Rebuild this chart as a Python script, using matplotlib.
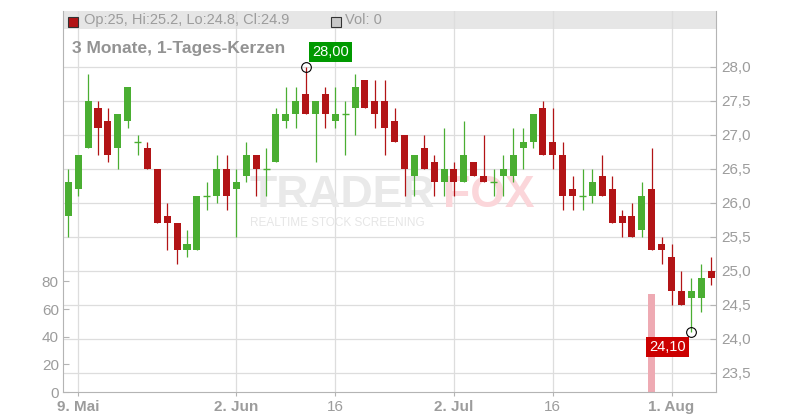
import matplotlib
matplotlib.use("Agg")
import matplotlib.pyplot as plt
import numpy as np
import pandas as pd
from matplotlib.patches import Rectangle

plt.rcParams["font.family"] = ["Liberation Sans", "DejaVu Sans"]

# daily candles, 8 May - 7 Aug
days = pd.bdate_range("2025-05-08", "2025-08-07")
opens = [25.8, 26.2, 26.8, 27.4, 27.2, 26.8, 27.2, 26.9, 26.8, 26.5,
         25.8, 25.7, 25.3, 25.3, 26.1, 26.1, 26.5, 26.2, 26.4, 26.7,
         26.5, 26.6, 27.2, 27.3, 27.6, 27.3, 27.6, 27.2, 27.3, 27.4,
         27.8, 27.5, 27.5, 27.2, 27.0, 26.4, 26.8, 26.6, 26.3, 26.5,
         26.3, 26.6, 26.4, 26.3, 26.4, 26.4, 26.8, 26.9, 27.4, 26.9,
         26.7, 26.2, 26.1, 26.1, 26.4, 26.2, 25.8, 25.8, 25.6, 26.2,
         25.4, 25.2, 24.7, 24.6, 24.6, 25.0]
highs = [26.5, 26.7, 27.9, 27.5, 27.4, 27.3, 27.7, 27.0, 26.9, 26.5,
         26.0, 25.7, 25.6, 26.1, 26.3, 26.7, 26.7, 26.5, 26.9, 26.7,
         26.8, 27.4, 27.7, 27.7, 28.0, 27.5, 27.7, 27.7, 27.5, 27.9,
         27.8, 27.8, 27.8, 27.4, 27.0, 26.7, 27.0, 26.7, 27.1, 26.6,
         27.2, 26.6, 27.0, 26.5, 26.7, 27.1, 27.1, 27.3, 27.5, 27.4,
         26.9, 26.4, 26.5, 26.5, 26.7, 26.4, 25.9, 26.0, 26.3, 26.8,
         25.5, 25.4, 25.0, 24.9, 25.1, 25.2]
lows = [25.5, 26.1, 26.8, 26.7, 26.6, 26.5, 27.1, 26.7, 26.5, 25.7,
        25.3, 25.1, 25.2, 25.3, 25.9, 26.0, 25.9, 25.5, 26.3, 26.1,
        26.1, 26.6, 27.1, 27.1, 27.3, 26.6, 27.1, 27.1, 26.7, 27.0,
        27.4, 27.1, 26.7, 26.9, 26.1, 26.1, 26.5, 26.1, 26.1, 26.1,
        26.3, 26.4, 26.3, 26.1, 26.1, 26.3, 26.5, 26.8, 26.7, 26.5,
        25.9, 25.9, 25.9, 26.0, 26.1, 25.7, 25.5, 25.5, 25.5, 25.3,
        25.1, 24.5, 24.5, 24.1, 24.4, 24.8]
closes = [26.3, 26.7, 27.5, 27.1, 26.7, 27.3, 27.7, 26.9, 26.5, 25.7,
          25.7, 25.3, 25.4, 26.1, 26.1, 26.5, 26.1, 26.3, 26.7, 26.5,
          26.5, 27.3, 27.3, 27.5, 27.3, 27.5, 27.3, 27.3, 27.3, 27.7,
          27.4, 27.3, 27.1, 26.9, 26.5, 26.7, 26.5, 26.3, 26.5, 26.3,
          26.7, 26.4, 26.3, 26.3, 26.5, 26.7, 26.9, 27.3, 26.7, 26.7,
          26.1, 26.1, 26.1, 26.3, 26.1, 25.7, 25.7, 25.5, 26.1, 25.3,
          25.3, 24.7, 24.5, 24.7, 24.9, 24.9]
volumes = [0, 0, 0, 0, 0, 0, 0, 0, 0, 0,
           0, 0, 0, 0, 0, 0, 0, 0, 0, 0,
           0, 0, 0, 0, 0, 0, 0, 0, 0, 0,
           0, 0, 0, 0, 0, 0, 0, 0, 0, 0,
           0, 0, 0, 0, 0, 0, 0, 0, 0, 0,
           0, 0, 0, 0, 0, 0, 0, 0, 0, 71,
           0, 0, 0, 0, 0, 0]

tick_dates = ["2025-05-09", "2025-06-02", "2025-06-16", "2025-07-02", "2025-07-16", "2025-08-01"]
tick_labels = ["9. Mai", "2. Jun", "16", "2. Jul", "16", "1. Aug"]
price_ticks = [23.5, 24.0, 24.5, 25.0, 25.5, 26.0, 26.5, 27.0, 27.5, 28.0]
vol_ticks = [0, 20, 40, 60, 80]

GREEN = "#4aae32"
RED = "#b21416"
GREY = "#9c9c9c"
GRID = "#dddddd"
SPINE = "#b4b4b4"

fig = plt.figure(figsize=(8, 4.2), dpi=100)
ax = fig.add_axes([63 / 800, 28 / 420, 653 / 800, 381 / 420])
ax2 = ax.twinx()

x = np.arange(len(days))
o = np.array(opens)
h = np.array(highs)
l = np.array(lows)
c = np.array(closes)
cols = [GREEN if cc >= oo else RED for oo, cc in zip(o, c)]

# volume (left axis)
ax.bar(x, volumes, width=0.71, color="#eeaab3", zorder=2)
ax.set_ylim(0, 275.7)
ax.set_xlim(-0.54, 65.5)
ax.set_yticks(vol_ticks)
ax.tick_params(axis="y", direction="in", length=4, color=SPINE, labelcolor=GREY,
               labelsize=11, pad=3)

# header band
ax.add_patch(Rectangle((0, 363 / 381), 1, 18 / 381, transform=ax.transAxes,
                       color="#e6e6e6", zorder=0.1, lw=0))

# grid
tick_pos = [days.get_loc(pd.Timestamp(d)) for d in tick_dates]
ax.set_xticks(tick_pos)
ax.set_xticklabels(tick_labels)
for lab, txt in zip(ax.get_xticklabels(), tick_labels):
    lab.set_fontweight("normal" if txt == "16" else "bold")
ax.tick_params(axis="x", direction="out", length=3, color=SPINE, labelcolor=GREY,
               labelsize=11, pad=3)
ax.set_axisbelow(True)
ax.grid(axis="x", color=GRID, lw=0.9)
ax.hlines(price_ticks, 0, 1, transform=ax2.get_yaxis_transform(), color=GRID,
          lw=0.9, zorder=0.5)

# watermark
ax.text(250 / 800, 1 - 207 / 420, "TRADER", transform=fig.transFigure,
        fontsize=32, fontweight="bold", color="#e9e9e9", va="baseline", zorder=1)
ax.text(443 / 800, 1 - 207 / 420, "FOX", transform=fig.transFigure,
        fontsize=32, fontweight="bold", color="#fbd6da", va="baseline", zorder=1)
ax.text(250 / 800, 1 - 226 / 420, "REALTIME STOCK SCREENING", transform=fig.transFigure,
        fontsize=8.5, color="#e6e6e6", va="baseline", zorder=1)

# candles (right axis)
ax2.vlines(x, l, h, colors=cols, lw=0.9, zorder=3)
body = np.abs(c - o)
is_body = body > 0
ax2.bar(x[is_body], body[is_body], bottom=np.minimum(o, c)[is_body], width=0.71,
        color=[cc for cc, b in zip(cols, is_body) if b], lw=0, zorder=4)
doji = ~is_body
ax2.hlines(c[doji], x[doji] - 0.36, x[doji] + 0.36,
           colors=[cc for cc, d in zip(cols, doji) if d], lw=1.0, zorder=4)

ax2.set_ylim(23.22, 28.82)
ax2.set_yticks(price_ticks)
ax2.set_yticklabels([f"{p:.1f}".replace(".", ",") for p in price_ticks])
ax2.tick_params(axis="y", direction="in", length=4, color=SPINE, labelcolor=GREY,
                labelsize=11, pad=4)

# high / low markers
ih = int(np.argmax(h))
il = int(np.argmin(l))
ax2.plot([x[ih], x[il]], [h[ih], l[il]], "o", mfc="none", mec="black", ms=7, mew=0.8,
         zorder=6)
ax2.annotate(f"{h[ih]:.2f}".replace(".", ","), (x[ih], h[ih]), xytext=(4.5, 5.5),
             textcoords="offset points", ha="left", va="bottom", color="white",
             fontsize=10.5, zorder=7,
             bbox=dict(boxstyle="square,pad=0.2", fc="#009900", ec="none"))
ax2.annotate(f"{l[il]:.2f}".replace(".", ","), (x[il], l[il]), xytext=(-4, -5.5),
             textcoords="offset points", ha="right", va="top", color="white",
             fontsize=10.5, zorder=7,
             bbox=dict(boxstyle="square,pad=0.2", fc="#cc0000", ec="none"))

for s in ["top", "right"]:
    ax.spines[s].set_visible(False)
for s in ["top", "left", "bottom"]:
    ax2.spines[s].set_visible(False)
ax.spines["left"].set_color(SPINE)
ax.spines["bottom"].set_color(SPINE)
ax2.spines["right"].set_color(SPINE)

# header texts
fig.patches.append(Rectangle((68 / 800, 1 - 27 / 420), 10 / 800, 10 / 420,
                             transform=fig.transFigure, fc=RED, ec="#333333", lw=0.8))
fig.text(84 / 800, 1 - 20 / 420, "Op:25, Hi:25.2, Lo:24.8, Cl:24.9", fontsize=10.5,
         color=GREY, va="center")
fig.patches.append(Rectangle((331 / 800, 1 - 27 / 420), 10 / 800, 10 / 420,
                             transform=fig.transFigure, fc="#c8c8c8", ec="#333333", lw=0.8))
fig.text(345 / 800, 1 - 20 / 420, "Vol: 0", fontsize=10.5, color=GREY, va="center")
fig.text(72 / 800, 1 - 48 / 420, "3 Monate, 1-Tages-Kerzen", fontsize=12.5,
         fontweight="bold", color="#939393", va="center")

fig.savefig("out.png", dpi=100)
